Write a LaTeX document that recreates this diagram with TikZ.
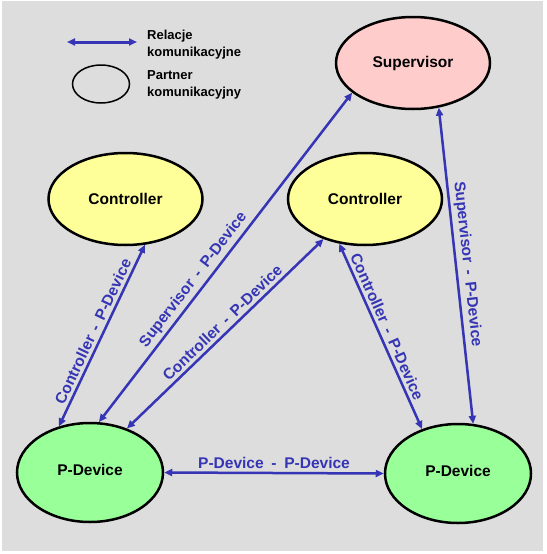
\documentclass[tikz,border=0pt]{standalone}
\usepackage{fontspec}
\setmainfont{Liberation Sans}
\usetikzlibrary{arrows.meta,shapes.geometric}
\definecolor{bg}{HTML}{DDDDDD}
\definecolor{arr}{HTML}{3535B5}
\definecolor{ylw}{HTML}{FFFF99}
\definecolor{grn}{HTML}{99FF99}
\definecolor{pnk}{HTML}{FFCCCC}
\begin{document}
\begin{tikzpicture}[x=1pt,y=-1pt,
 partner/.style={ellipse, draw=black, line width=2.5pt, minimum width=154pt, minimum height=92pt, inner sep=0pt, font=\fontsize{15.5}{18}\selectfont\bfseries},
 pdev/.style={partner, fill=grn, minimum width=146pt, minimum height=99pt},
 rel/.style={draw=arr, line width=2.5pt, {Triangle[length=8pt,width=7pt]}-{Triangle[length=8pt,width=7pt]}},
 lab/.style={sloped, above, text=arr, font=\fontsize{15.5}{18}\selectfont\bfseries, inner sep=3pt},
 leg/.style={font=\fontsize{13}{17}\selectfont\bfseries, align=left, anchor=west, inner sep=0pt}]
\useasboundingbox (0,0) rectangle (546,554);
\fill[white] (0,0) rectangle (546,554);
\fill[bg] (2,1) rectangle (543,551);

% legend
\coordinate (la) at (67,42);
\coordinate (lb) at (137,42);
\draw[rel, line width=3pt] (la) -- (lb);
\node[leg] (legR) at (147,44.5) {Relacje\\komunikacyjne};
\node[ellipse, draw=black, line width=1.5pt, minimum width=57pt, minimum height=38pt, inner sep=0pt] (legE) at (101,84) {};
\node[leg] (legP) at (147,84.5) {Partner\\komunikacyjny};

% partners
\node[partner, fill=pnk] (sup) at (413,63) {\raisebox{2pt}{Supervisor}};
\node[partner, fill=ylw] (cL) at (125.5,199) {Controller};
\node[partner, fill=ylw] (cR) at (365,199) {Controller};
\node[pdev] (pL) at (90,472.5) {\raisebox{5pt}{P-Device}};
\node[pdev] (pR) at (458,473.5) {\raisebox{5pt}{P-Device}};

% relations
\draw[rel] (cL.-67) -- node[lab] {Controller\hspace{0.45em}-\hspace{0.45em}P-Device} (pL.124);
\draw[rel] (sup.206) -- node[lab, pos=0.59] {Supervisor\hspace{0.45em}-\hspace{0.45em}P-Device} (pL.80);
\draw[rel] (cR.224) -- node[lab, pos=0.48] {Controller\hspace{0.45em}-\hspace{0.45em}P-Device} (pL.50);
\draw[rel] (cR.240) -- node[lab, pos=0.47] {Controller\hspace{0.45em}-\hspace{0.45em}P-Device} (pR.129);
\draw[rel] (sup.300) -- node[lab] {Supervisor\hspace{0.45em}-\hspace{0.45em}P-Device} (pR.73);
\draw[rel] (pL.east) -- node[lab] {P-Device\hspace{0.5em}-\hspace{0.5em}P-Device} (pR.west);
\end{tikzpicture}
\end{document}
